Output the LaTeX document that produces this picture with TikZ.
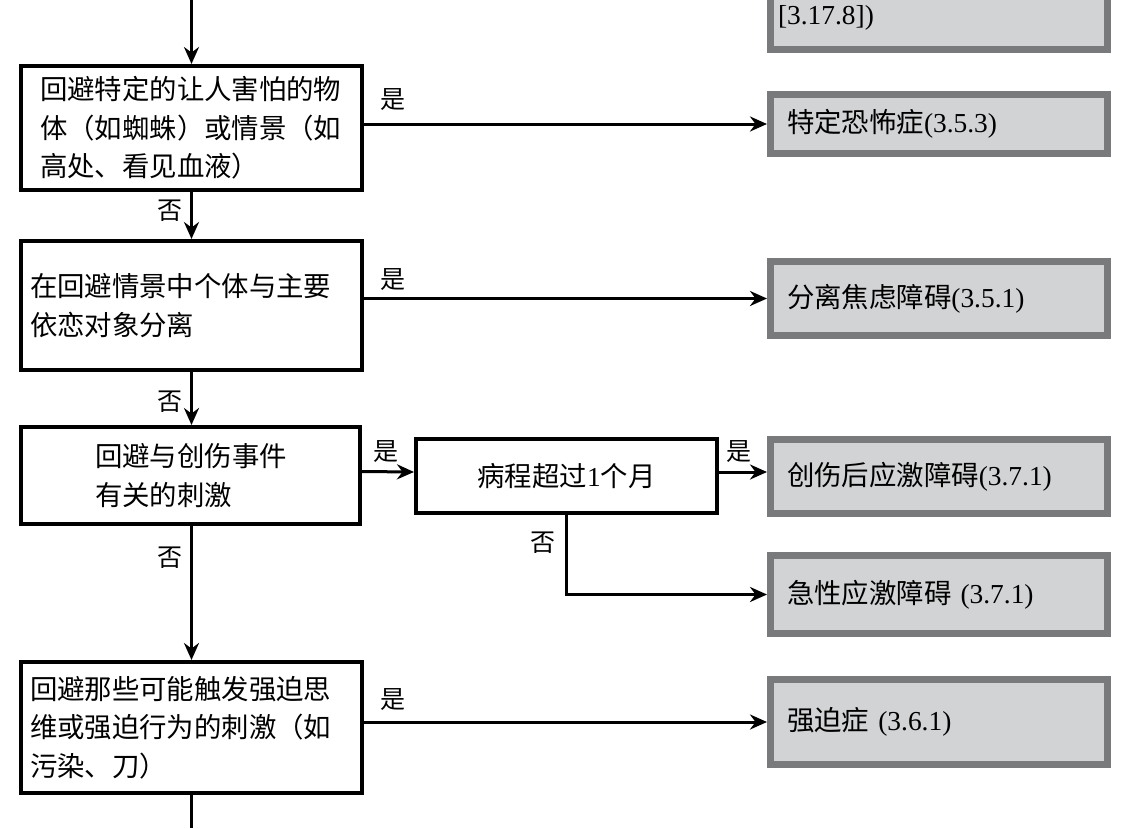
\documentclass[tikz,border=0pt]{standalone}
\usepackage{fontspec}
\setmainfont{Liberation Serif}
\newfontfamily\cjk{Noto Sans CJK SC}
\usetikzlibrary{arrows.meta}
\newcommand\mysize{\fontsize{27.4}{38.5}\selectfont}
\newcommand\labsize{\fontsize{25}{30}\selectfont}
\definecolor{gborder}{HTML}{797A7C}
\definecolor{gfill}{HTML}{D2D3D5}
\begin{document}
\begin{tikzpicture}[x=1pt,y=-1pt,
  qbox/.style={draw=black, line width=4pt, fill=white, align=left, inner xsep=0pt, inner ysep=0pt, font=\mysize},
  gbox/.style={draw=gborder, line width=7pt, fill=gfill, align=left, inner xsep=0pt, inner ysep=0pt,
     minimum width=337pt, text width=304pt, font=\mysize},
  arr/.style={line width=3pt, -{Stealth[length=17pt,width=15pt]}},
  plain/.style={line width=3pt},
  lab/.style={font=\labsize\cjk, inner sep=0pt}]
\useasboundingbox (0,0) rectangle (1138,828);
\clip (0,0) rectangle (1138,828);

% question boxes
\node[qbox, minimum width=341pt, minimum height=124pt, text width=303pt] (b1) at (191.5,128)
  {\cjk 回避特定的让人害怕的物\\\cjk 体（如蜘蛛）或情景（如\\\cjk 高处、看见血液）};
\node[qbox, minimum width=341pt, minimum height=129pt, text width=323pt] (b2) at (191.5,305.5)
  {\cjk 在回避情景中个体与主要\\\cjk 依恋对象分离\\[14pt]};
\node[qbox, minimum width=339pt, minimum height=97pt, text width=191pt] (b3) at (190.5,475.5)
  {\cjk 回避与创伤事件\\\cjk 有关的刺激};
\node[qbox, minimum width=341pt, minimum height=131pt, text width=323pt] (b4) at (191.5,727.5)
  {\cjk 回避那些可能触发强迫思\\\cjk 维或强迫行为的刺激（如\\\cjk 污染、刀）\\[14pt]};
\node[qbox, align=center, minimum width=301pt, minimum height=74pt] (m) at (566.5,476)
  {{\cjk 病程超过}1{\cjk 个月}};

% result boxes
\node[gbox, minimum height=63pt, text width=322pt] (g0) at (939,18) {[3.17.8])};
\node[gbox, minimum height=59pt] (g1) at (939,124) {{\cjk 特定恐怖症}(3.5.3)};
\node[gbox, minimum height=74pt] (g2) at (939,298.5) {{\cjk 分离焦虑障碍}(3.5.1)};
\node[gbox, minimum height=74pt] (g3) at (939,476.5) {{\cjk 创伤后应激障碍}(3.7.1)};
\node[gbox, minimum height=78pt] (g4) at (939,594.5) {{\cjk 急性应激障碍} (3.7.1)};
\node[gbox, minimum height=85pt] (g5) at (939,722) {{\cjk 强迫症} (3.6.1)};

% free ends
\coordinate (top) at (191.5,0);
\coordinate (bot) at (191.5,828);

% vertical flow
\draw[arr] (top) -- (b1.north);
\draw[arr] (b1.south) -- (b2.north);
\draw[arr] (b2.south) -- (b3.north -| b2.south);
\draw[arr] (b3.south -| b2.south) -- (b4.north);
\draw[plain] (b4.south) -- (bot);

% yes branches
\draw[arr] (g1.west -| b1.east) -- (g1.west);
\draw[arr] (g2.west -| b2.east) -- (g2.west);
\draw[arr] ([yshift=4pt]b3.east) -- ([yshift=4pt]m.west);
\draw[arr] ([yshift=4pt]m.east) -- ([yshift=4pt]m.east -| g3.west);
\draw[arr] (m.south) |- (g4.west);
\draw[arr] (g5.west -| b4.east) -- (g5.west);

% labels
\node[lab] (y1) at (393,100) {是};
\node[lab] (y2) at (393,280) {是};
\node[lab] (y3) at (386,452) {是};
\node[lab] (y4) at (739,452) {是};
\node[lab] (y5) at (393,700) {是};
\node[lab] (n1) at (170,211) {否};
\node[lab] (n2) at (170,402) {否};
\node[lab] (n3) at (543,543) {否};
\node[lab] (n4) at (170,558) {否};
\end{tikzpicture}
\end{document}
